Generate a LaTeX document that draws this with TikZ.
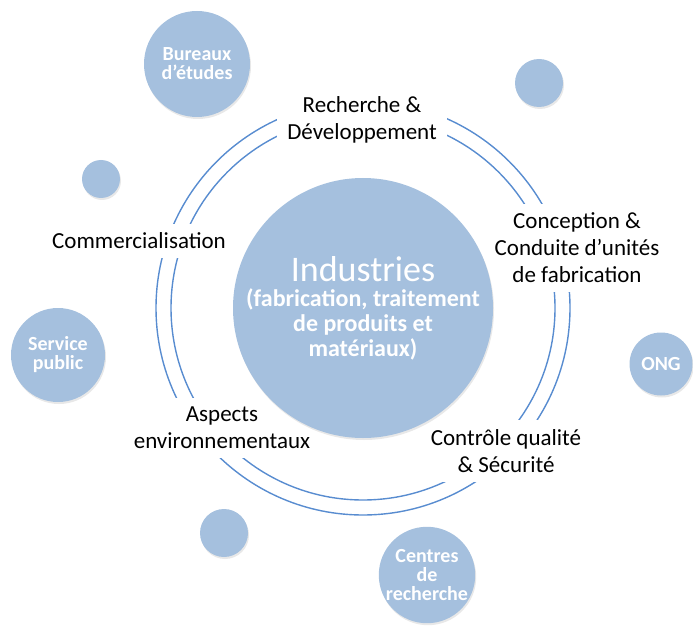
\documentclass[tikz,border=0pt]{standalone}
\usepackage{fontspec}
\setmainfont{Carlito}
\usetikzlibrary{shadows}
\definecolor{bubblefill}{RGB}{165,192,222}
\definecolor{ringblue}{RGB}{88,140,208}

\begin{document}
\begin{tikzpicture}
                \tikzset{x=1pt, y=-1pt}
                \tikzstyle{bubble}=[circle, fill=bubblefill, inner sep=0pt, text=white, align=center,
                        font=\fontsize{20}{19}\selectfont\bfseries,
                        drop shadow={opacity=0.18, shadow xshift=1pt, shadow yshift=-2pt}]
                \tikzstyle{stage}=[fill=white, align=center, inner xsep=10pt, inner ysep=9pt,
                        font=\fontsize{23}{27}\selectfont]
                \tikzstyle{ring}=[draw=ringblue, line width=1.4pt]

                \useasboundingbox (0,0) rectangle (693,631);

                \coordinate (mid) at (363, 308);
                \draw [ring]        (mid) circle [radius=207pt];
                \draw [ring]        (mid) circle [radius=192pt];

                \draw (362, 120)    node[stage]     (rd)    {Recherche \&\\Développement};
                \draw (577, 248)    node[stage]     (conc)  {Conception \&\\Conduite d’unités\\de fabrication};
                \draw (506, 451)    node[stage]     (qual)  {Contrôle qualité\\\& Sécurité};
                \draw (222, 428)    node[stage]     (env)   {Aspects\\environnementaux};
                \draw (139, 241)    node[stage]     (com)   {Commercialisation};

                \draw (197, 64)     node[bubble, minimum size=106pt]    (be)    {Bureaux\\d’études};
                \draw (539, 83)     node[bubble, minimum size=48pt]     (d1)    {};
                \draw (101, 179)    node[bubble, minimum size=38pt]     (d2)    {};
                \draw (58, 355)     node[bubble, minimum size=94pt]     (sp)    {Service\\public};
                \draw (661, 364)    node[bubble, minimum size=63pt]     (ong)   {ONG};
                \draw (224, 533)    node[bubble, minimum size=48pt]     (d3)    {};
                \draw (427, 575)    node[bubble, minimum size=96pt]     (cr)    {Centres\\de\\recherche};

                \draw (363, 308)    node[bubble, minimum size=260pt, font=\fontsize{24}{25}\selectfont\bfseries]  (ind)
                        {{\fontsize{36}{36}\selectfont\mdseries Industries}\\(fabrication, traitement\\de produits et\\matériaux)};
            \end{tikzpicture}
\end{document}
